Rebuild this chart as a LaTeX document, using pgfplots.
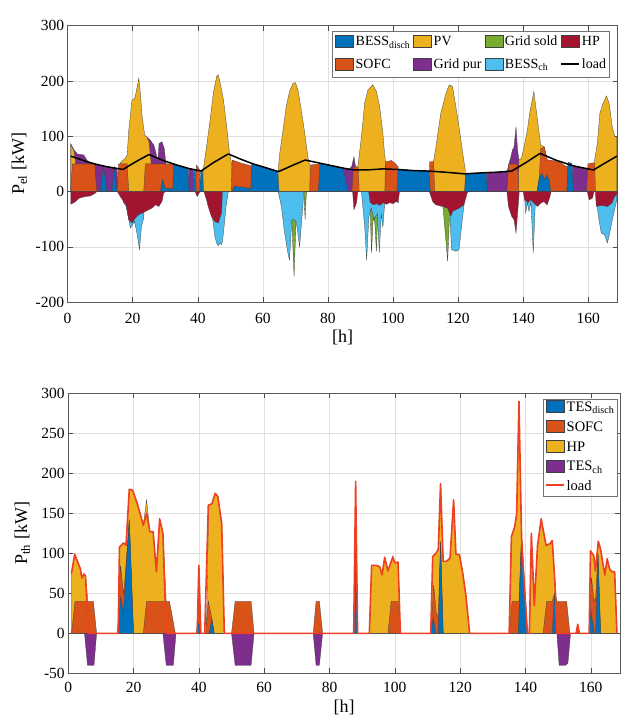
\documentclass[border=0pt]{standalone}
\usepackage{fontspec}
\setmainfont{Liberation Serif}
\usepackage{pgfplots}
\pgfplotsset{compat=1.18}
\definecolor{mblue}{rgb}{0,0.447,0.741}
\definecolor{morange}{rgb}{0.85,0.325,0.098}
\definecolor{myellow}{rgb}{0.929,0.694,0.125}
\definecolor{mpurple}{rgb}{0.494,0.184,0.556}
\definecolor{mgreen}{rgb}{0.466,0.674,0.188}
\definecolor{mlblue}{rgb}{0.301,0.745,0.933}
\definecolor{mred}{rgb}{0.635,0.078,0.184}
\definecolor{loadred}{RGB}{238,64,36}
\newcommand{\tf}{\fontsize{15.5}{17}\selectfont}
\newcommand{\lf}{\fontsize{18}{20}\selectfont}
\newcommand{\gf}{\fontsize{14}{16}\selectfont}
\newcommand{\gfb}{\fontsize{14.5}{16}\selectfont}
\pgfplotsset{
  mystyle/.style={
    scale only axis, anchor=south west,
    xmin=0, xmax=169,
    xtick={0,20,...,160},
    tick align=inside, tick pos=both,
    major tick length=5pt,
    tick style={black!70, line width=0.5pt},
    axis line style={black!65, line width=0.6pt},
    grid=major, major grid style={black!12, line width=0.5pt},
    /pgf/number format/assume math mode=true,
    ticklabel style={font=\tf},
    label style={font=\lf},
    legend cell align=left,
  },
  legimg/.style={legend image code/.code={\draw[##1] (0pt,-3.8pt) rectangle (18pt,8.2pt);}},
  linimg/.style={legend image code/.code={\draw[##1] (0pt,2.2pt) -- (18pt,2.2pt);}},
  ar/.style={draw=black!75, line width=0.3pt, forget plot},
}
\begin{document}
\begin{tikzpicture}
\useasboundingbox (0pt,0pt) rectangle (633pt,721pt);
% ---------------- top: electrical ----------------
\begin{axis}[mystyle,
  at={(67.6pt,418.9pt)}, width=549.9pt, height=276.4pt,
  ymin=-200, ymax=300, ytick={-200,-100,...,300},
  xlabel={[h]}, ylabel={P\textsubscript{el} [kW]},
  xlabel style={at={(axis description cs:0.5,-0.128)}, anchor=center},
  ylabel style={at={(axis description cs:-0.0877,0.5)}, anchor=center},
  xticklabel style={yshift=-7.5pt},
  legend columns=4,
  legend style={at={(axis description cs:0.986,0.981)}, anchor=north east,
    draw=black!55, line width=0.5pt, fill=white, font=\gf,
    inner xsep=3pt, inner ysep=3.6pt, row sep=6.7pt, column sep=1.5pt,
    nodes={inner sep=0.5pt, text depth=4.5pt, text height=10pt},
    /tikz/every even column/.append style={column sep=2.5pt}},
]
% Grid pur (top of positive stack)
\addplot[ar, fill=mpurple] coordinates {(1,0) (1,86) (2,75) (3,68) (4,67) (5,66) (6,56) (7,52) (8.5,50) (10,47) (12,45) (14,43) (15.2,42) (15.6,0) (24.0,0) (24.3,99) (25.4,93) (26.5,84) (27.2,69) (27.7,52) (28.1,87) (29.0,90) (29.7,78) (30.2,52) (30.4,0) (37.0,0) (37.2,41) (38.6,40) (38.8,0) (84.4,0) (84.6,43) (86.5,40) (87.3,45) (88.0,63) (88.6,42) (88.8,0) (128.6,0) (128.8,34) (132,35) (135.1,37) (135.6,50) (136.2,62) (136.7,75) (137.2,80) (137.8,117) (138.3,75) (138.7,57) (139.0,0) (155.0,0) (155.2,47) (158,43) (160.2,41) (160.4,0) (168.8,0)} -- cycle;
% PV
\addplot[ar, fill=myellow] coordinates {(1,0) (1,86) (2,72) (2.6,45) (2.8,0) (15.9,0) (16.2,52) (17.7,60) (18.3,66) (18.8,111) (19.8,166) (20.6,168) (21.0,178) (21.9,205) (22.4,175) (22.9,136) (23.7,102) (24.4,98) (25.0,90) (25.6,55) (25.8,0) (41.4,0) (41.7,40) (42.7,81) (43.8,130) (44.8,178) (45.8,208) (46.3,211) (46.8,199) (47.9,166) (48.9,117) (49.7,72) (50.4,51) (50.7,0) (64.6,0) (64.8,45) (65.2,69) (66.2,111) (67.2,154) (68.2,181) (69.3,196) (70.0,197) (70.8,184) (71.8,148) (72.9,105) (73.7,69) (74.1,54) (74.5,48) (74.7,0) (89.0,0) (89.2,45) (90.3,99) (91.3,160) (92.3,184) (93.8,193) (94.9,181) (95.9,154) (96.9,105) (97.4,69) (97.7,54) (98.0,0) (112.0,0) (112.2,45) (113.2,81) (114.7,142) (116.3,178) (117.3,193) (118.3,190) (119.3,154) (120.3,117) (121.3,75) (122.2,39) (122.4,0) (138.4,0) (138.7,57) (139.5,60) (140.5,87) (141.3,111) (142.0,142) (143.3,181) (144.0,148) (144.8,111) (145.4,84) (146.5,81) (147.4,57) (147.7,0) (161.6,0) (161.8,51) (162.8,87) (163.6,142) (164.6,160) (165.6,173) (166.4,160) (167.4,117) (168.2,99) (168.8,99) (168.8,0)} -- cycle;
% SOFC
\addplot[ar, fill=morange] coordinates {(1,0) (1,10) (1.5,50) (8.3,50) (9.0,0) (15.2,0) (15.7,50) (18.3,50) (18.8,0) (23.4,0) (23.9,50) (32.7,50) (32.8,0) (39.2,0) (39.6,48) (40.5,40) (40.8,0) (50.3,0) (50.6,57) (53,52) (56.6,46) (56.7,0) (74.4,0) (74.6,48) (77.6,50) (77.7,0) (87.4,0) (87.8,44) (89.3,45) (89.6,0) (97.5,0) (97.7,54) (99.5,56) (100.5,52) (101.2,47) (101.6,45) (101.7,0) (111.0,0) (111.3,54) (112.5,54) (112.8,0) (135.0,0) (135.6,50) (138.2,50) (138.7,0) (144.3,0) (145,27) (145.4,78) (146.5,80) (147.4,57) (149.5,56) (151.5,52) (153.0,46) (153.8,45) (154.0,0) (159.5,0) (159.9,50) (161.5,52) (162.0,50) (162.2,0) (168.8,0)} -- cycle;
% BESS disch
\addplot[ar, fill=mblue] coordinates {(1,0) (10.0,0) (11.1,45) (12.1,0) (13.6,0) (14.4,44) (15.2,0) (28.5,0) (29.2,22) (30,5) (31,6) (32.3,4) (32.7,49) (35,45) (37,41) (37.3,0) (38.5,0) (38.8,39) (39.3,39) (39.5,0) (40.6,0) (40.9,36) (41.5,36) (41.8,0) (50.5,0) (51.2,9) (54,8) (56.3,5) (56.6,50) (60,44) (64.5,37) (65.0,0) (77.0,0) (77.6,51) (80,48) (84.6,43) (86.3,0) (101.2,0) (101.6,41) (106,38) (111,37) (111.5,0) (122.0,0) (122.3,33) (128.6,34) (129.0,0) (144.3,0) (145,27) (145.8,33) (146.5,22) (147.3,30) (148,20) (148.5,0) (153.4,0) (153.8,53) (155.0,51) (155.4,0) (168.8,0)} -- cycle;
% Grid sold (outermost negative)
\addplot[ar, fill=mgreen] coordinates {(1,0) (68.7,0) (68.9,-51) (69.6,-154) (70.2,-55) (70.4,0) (72.6,0) (73.0,-51) (73.4,0) (92.9,0) (93.0,-35) (93.4,-111) (93.9,-48) (94.4,-55) (94.9,-108) (95.3,-45) (95.5,0) (115.2,0) (115.4,-30) (116.8,-126) (117.4,-40) (117.6,0) (168.8,0)} -- cycle;
% BESS ch
\addplot[ar, fill=mlblue] coordinates {(1,0) (16.5,0) (17.2,-20) (18.0,-27) (18.8,-51) (19.3,-66) (20.0,-60) (20.6,-54) (21.3,-75) (22.1,-105) (22.7,-63) (23.4,-48) (23.7,0) (44.0,0) (44.5,-45) (45.2,-80) (45.8,-93) (46.3,-98) (46.8,-93) (47.4,-96) (47.9,-75) (48.7,-27) (49.4,0) (64.7,0) (65.7,-27) (66.7,-75) (67.7,-111) (68.2,-124) (68.9,-51) (69.6,-51) (70.3,-55) (71.3,-100) (72.3,-27) (72.6,0) (90.3,0) (91.3,-63) (91.9,-124) (92.6,-45) (93.3,-30) (94.2,-50) (95.2,-40) (95.8,-110) (96.4,-40) (96.9,-65) (97.4,-25) (97.8,0) (117.2,0) (117.5,-45) (118.0,-105) (119.3,-108) (120.3,-105) (121.3,-51) (121.8,-26) (122.0,0) (140.3,0) (140.8,-39) (141.3,-20) (141.8,-36) (142.4,-18) (143.1,-111) (143.7,-27) (144.0,0) (162.6,0) (162.8,-30) (163.3,-51) (164.0,-75) (165.0,-78) (165.9,-93) (166.6,-75) (167.4,-51) (168.2,-30) (168.8,-15) (168.8,0)} -- cycle;
% HP
\addplot[ar, fill=mred] coordinates {(1,0) (1,-23) (2.5,-18) (3.5,-12) (5.5,-9) (7,-8) (8.5,-3) (9,0) (15.3,0) (16.2,-9) (17.2,-18) (18.0,-24) (18.8,-51) (19.8,-57) (20.8,-48) (21.8,-42) (22.9,-39) (23.9,-36) (24.9,-33) (25.9,-30) (27.0,-24) (28.0,-27) (29.0,-18) (29.5,-3) (30.0,0) (39.2,0) (39.8,-9) (40.5,-2) (40.8,0) (41.9,0) (42.7,-15) (43.2,-27) (44.2,-45) (45.2,-54) (46.3,-57) (47.3,-39) (47.6,0) (87.6,0) (88.0,-33) (88.8,-20) (89.2,0) (92.5,0) (93.0,-20) (94,-24) (95,-22) (96,-25) (97,-20) (98,-23) (99,-20) (100,-22) (101,-18) (101.6,-20) (102,0) (111.2,0) (112.2,-18) (113.2,-24) (115.2,-27) (116.8,-30) (117.8,-45) (118.3,-36) (120.3,-30) (121.8,-24) (122.8,-3) (123.1,0) (135,0) (135.5,-27) (136.5,-45) (137.2,-51) (137.8,-75) (138.3,-40) (138.8,0) (140.0,0) (140.5,-15) (141.5,-20) (142.3,-15) (143.3,-21) (144.4,-27) (145.4,-21) (146.4,-18) (147.4,-24) (148.2,-10) (148.6,0) (159.7,0) (160.3,-15) (161.3,-12) (161.8,0) (162.2,0) (162.5,-27) (164,-25) (166,-27) (167.4,-20) (168,-10) (168.8,-5) (168.8,0)} -- cycle;
% load
\addplot[black, line width=1.5pt, line join=round, forget plot] coordinates {(1,64) (3,60) (6,54) (9,49) (12,45) (15,42) (17,40) (21,54) (25,67) (27,62) (29,57) (33,49) (37,42) (41,37) (45,53) (49.4,68) (53,59) (57,50) (61,43) (64.8,36) (69,47) (73,57) (77,52) (81,47) (85,42) (88,39) (92,39) (97,41) (101,40) (106,38) (111,37) (116,35) (122,32) (128,34) (132,35) (136.5,37) (141,53) (145.2,69) (150,57) (155,47) (161.6,39) (165,51) (168.8,64)};
\addlegendimage{legimg, fill=mblue, draw=black!75, line width=0.4pt}
\addlegendentry{BESS\textsubscript{disch}}
\addlegendimage{legimg, fill=myellow, draw=black!75, line width=0.4pt}
\addlegendentry{PV}
\addlegendimage{legimg, fill=mgreen, draw=black!75, line width=0.4pt}
\addlegendentry{Grid sold}
\addlegendimage{legimg, fill=mred, draw=black!75, line width=0.4pt}
\addlegendentry{HP}
\addlegendimage{legimg, fill=morange, draw=black!75, line width=0.4pt}
\addlegendentry{SOFC}
\addlegendimage{legimg, fill=mpurple, draw=black!75, line width=0.4pt}
\addlegendentry{Grid pur}
\addlegendimage{legimg, fill=mlblue, draw=black!75, line width=0.4pt}
\addlegendentry{BESS\textsubscript{ch}}
\addlegendimage{linimg, black, line width=1.5pt}
\addlegendentry{load}
\end{axis}
% ---------------- bottom: thermal ----------------
\begin{axis}[mystyle,
  at={(68.2pt,47.7pt)}, width=552pt, height=280pt,
  ymin=-50, ymax=300, ytick={-50,0,...,300},
  xlabel={[h]}, ylabel={P\textsubscript{th} [kW]},
  xlabel style={at={(axis description cs:0.5,-0.122)}, anchor=center},
  ylabel style={at={(axis description cs:-0.083,0.5)}, anchor=center},
  xticklabel style={yshift=-5pt},
  legend columns=1,
  legend style={at={(axis description cs:0.9945,0.98)}, anchor=north east,
    draw=black!55, line width=0.5pt, fill=white, font=\gfb,
    inner xsep=2pt, inner ysep=1pt, row sep=3.7pt, column sep=1.5pt,
    nodes={inner sep=0.5pt, text depth=4.5pt, text height=10pt}},
]
% HP (top of stack)
\addplot[ar, fill=myellow] coordinates {(1,0) (1,75) (2,99) (3,88) (3.7,81) (4.2,69) (4.8,74) (5.3,72) (6.0,40) (6.1,0) (15.5,0) (15.7,108) (17.0,113) (17.7,110) (18.7,180) (19.7,179) (21.0,164) (22.0,150) (23.0,135) (24.0,167) (25.0,127) (26.0,127) (27.0,77) (28.0,143) (29.0,125) (30.0,40) (30.1,0) (39.5,0) (40,85) (40.6,0) (42.3,0) (43.0,160) (44.0,162) (45.0,175) (45.8,171) (47.0,137) (47.8,0) (87.4,0) (88.0,190) (88.6,0) (92.2,0) (92.9,85) (94.4,85) (95.4,83) (96.1,73) (96.9,95) (97.9,78) (98.9,90) (99.4,97) (100.0,88) (101.0,89) (101.7,0) (111.0,0) (111.6,96) (112.6,100) (113.3,105) (114.0,187) (114.8,90) (115.8,90) (116.9,94) (118.0,167) (118.7,99) (119.8,98) (120.8,75) (121.8,46) (122.9,0) (135.0,0) (135.7,121) (136.7,133) (137.3,150) (138.0,290) (138.8,120) (139.5,70) (140.3,20) (140.6,0) (141.2,0) (141.8,125) (142.7,35) (143.7,110) (144.8,143) (146.3,110) (147.5,112) (148.2,116) (149.0,65) (149.5,40) (149.6,0) (155.5,0) (156.0,11) (156.5,0) (159.5,0) (159.9,103) (160.9,97) (161.4,78) (162.3,115) (163.0,105) (163.6,90) (164.3,73) (165.0,93) (165.8,80) (166.5,77) (167.3,77) (168.0,0)} -- cycle;
% SOFC
\addplot[ar, fill=morange] coordinates {(1,0) (2.1,40) (7.7,40) (8.7,0) (15.1,0) (16.0,85) (17.0,48) (18.7,142) (20.0,0) (23.0,0) (24.0,40) (31.0,40) (32.8,0) (39.3,0) (40,54) (40.6,0) (42.0,0) (42.9,40) (44.0,18) (44.7,0) (50.0,0) (51.1,40) (56.0,40) (56.9,0) (75.0,0) (75.9,40) (76.9,40) (77.9,0) (87.4,0) (88.0,115) (88.6,0) (97.9,0) (98.9,40) (101.0,40) (101.8,0) (111.0,0) (111.9,60) (112.7,25) (113.3,20) (114.0,115) (114.8,0) (135.0,0) (135.9,40) (138.0,40) (138.8,123) (140.6,0) (145.4,0) (146.5,40) (148.2,40) (148.9,50) (149.6,40) (152.6,40) (153.6,0) (155.5,0) (156.0,11) (156.5,0) (159.5,0) (160.2,70) (161.0,40) (161.5,45) (162.2,100) (163.0,0) (168,0)} -- cycle;
% TES disch
\addplot[ar, fill=mblue] coordinates {(1,0) (15.1,0) (16.1,46) (16.9,25) (18.7,142) (20.0,0) (39.3,0) (40,13) (40.6,0) (43.2,0) (44.0,18) (44.7,0) (87.4,0) (88.0,115) (88.6,0) (111.0,0) (111.8,20) (112.5,0) (113.3,0) (114.0,115) (114.8,0) (137.8,0) (138.8,123) (140.6,0) (148.2,0) (148.9,50) (149.6,0) (159.5,0) (160.0,30) (161.0,0) (161.5,0) (162.2,100) (163.0,0) (168,0)} -- cycle;
% TES ch
\addplot[ar, fill=mpurple] coordinates {(1,0) (5.0,0) (5.9,-40) (7.9,-40) (8.7,0) (29.0,0) (30.0,-40) (32.2,-40) (33.0,0) (50.0,0) (51.1,-40) (56.0,-40) (56.9,0) (75.0,0) (75.9,-40) (76.9,-40) (77.9,0) (149.6,0) (150.3,-40) (152.3,-40) (153.0,-37) (153.8,0) (168,0)} -- cycle;
% load
\addplot[loadred, line width=1.6pt, line join=round, forget plot] coordinates {(1,75) (2,99) (3,88) (3.7,81) (4.2,69) (4.8,74) (5.3,72) (6.2,0) (15.3,0) (15.7,108) (17.0,113) (17.7,110) (18.7,180) (19.7,179) (21,164) (22,150) (23,135) (24,150) (25,127) (26,127) (27,77) (28,143) (29,125) (30,0) (39.5,0) (40,85) (40.6,0) (41.8,0) (42.9,160) (44,162) (45,175) (45.8,171) (47,137) (47.8,0) (87.4,0) (88,190) (88.6,0) (92.2,0) (92.9,85) (94.4,85) (95.4,83) (96.1,73) (96.9,95) (97.9,78) (98.9,90) (99.4,95) (100,88) (101,89) (101.7,0) (111,0) (111.6,96) (112.6,100) (113.3,105) (114,187) (114.8,90) (115.8,90) (116.9,94) (118,167) (118.7,99) (119.8,98) (120.8,75) (121.8,46) (122.9,0) (135,0) (135.7,121) (136.7,133) (137.3,150) (138,290) (138.8,120) (139.5,70) (140.3,20) (140.6,0) (141.2,0) (141.8,125) (142.7,35) (143.7,110) (144.8,143) (146.3,110) (147.5,112) (148.2,116) (149,65) (149.6,0) (155.5,0) (156,11) (156.5,0) (159.5,0) (159.9,103) (160.9,97) (161.4,78) (162.3,115) (163,105) (163.6,90) (164.3,73) (165,93) (165.8,80) (166.5,77) (167.3,77) (168,0)};
\addlegendimage{legimg, fill=mblue, draw=black!75, line width=0.4pt}
\addlegendentry{TES\textsubscript{disch}}
\addlegendimage{legimg, fill=morange, draw=black!75, line width=0.4pt}
\addlegendentry{SOFC}
\addlegendimage{legimg, fill=myellow, draw=black!75, line width=0.4pt}
\addlegendentry{HP}
\addlegendimage{legimg, fill=mpurple, draw=black!75, line width=0.4pt}
\addlegendentry{TES\textsubscript{ch}}
\addlegendimage{linimg, loadred, line width=1.6pt}
\addlegendentry{load}
\end{axis}
\end{tikzpicture}
\end{document}
